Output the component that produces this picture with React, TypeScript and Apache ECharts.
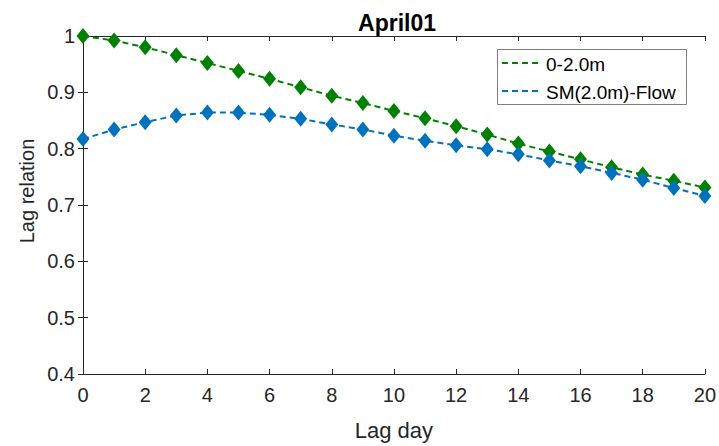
import React, { useEffect, useRef } from "react";
import * as echarts from "echarts";

const lagDays = [0, 1, 2, 3, 4, 5, 6, 7, 8, 9, 10, 11, 12, 13, 14, 15, 16, 17, 18, 19, 20];
const green02 = [1.0, 0.992, 0.980, 0.966, 0.952, 0.938, 0.924, 0.909, 0.894, 0.881, 0.867, 0.854, 0.840, 0.825, 0.809, 0.795, 0.781, 0.767, 0.754, 0.743, 0.731];
const blueSM = [0.817, 0.834, 0.847, 0.859, 0.864, 0.864, 0.860, 0.853, 0.843, 0.834, 0.823, 0.814, 0.806, 0.799, 0.790, 0.779, 0.769, 0.757, 0.745, 0.730, 0.716];
const seriesNames = ["0-2.0m", "SM(2.0m)-Flow"];
const colors = ["#008000", "#0072BD"];
const titleText = "April01";
const xLabel = "Lag day";
const yLabel = "Lag relation";

export default function App() {
  const ref = useRef<HTMLDivElement>(null);
  useEffect(() => {
    if (!ref.current) return;
    const chart = echarts.init(ref.current, null, { renderer: "svg" });
    const font = "'Liberation Sans', Arial, Helvetica, sans-serif";
    const axisColor = "#262626";
    const mkSeries = (name: string, vals: number[], color: string) => ({
      name,
      type: "line",
      data: lagDays.map((d, i) => [d, vals[i]]),
      symbol: "diamond",
      symbolSize: [13, 16],
      showSymbol: true,
      itemStyle: { color },
      lineStyle: { color, width: 2, type: [6, 4] },
      z: 3,
    });
    chart.setOption({
      animation: false,
      backgroundColor: "#ffffff",
      title: {
        text: titleText,
        left: 392,
        textAlign: "center",
        top: 6,
        textStyle: { fontFamily: font, fontSize: 23, fontWeight: "bold", color: "#000" },
      },
      grid: { left: 83, right: 14, top: 36, bottom: 69, containLabel: false },
      xAxis: [
        {
          type: "value",
          min: 0,
          max: 20,
          interval: 2,
          name: xLabel,
          nameLocation: "middle",
          nameGap: 45,
          nameTextStyle: { fontFamily: font, fontSize: 22, color: axisColor },
          axisLine: { show: true, lineStyle: { color: axisColor, width: 1 } },
          axisTick: { show: true, inside: true, length: 5, lineStyle: { color: axisColor } },
          axisLabel: { fontFamily: font, fontSize: 20, color: axisColor, margin: 11 },
          splitLine: { show: false },
        },
        {
          type: "value",
          position: "top",
          min: 0,
          max: 20,
          interval: 2,
          axisLine: { show: true, lineStyle: { color: axisColor, width: 1 } },
          axisTick: { show: true, inside: true, length: 5, lineStyle: { color: axisColor } },
          axisLabel: { show: false },
          splitLine: { show: false },
        },
      ],
      yAxis: [
        {
          type: "value",
          min: 0.4,
          max: 1,
          interval: 0.1,
          axisLine: { show: true, lineStyle: { color: axisColor, width: 1 } },
          axisTick: { show: true, inside: true, length: 5, lineStyle: { color: axisColor } },
          axisLabel: {
            fontFamily: font,
            fontSize: 20,
            color: axisColor,
            margin: 8,
            formatter: (v: number) => String(Math.round(v * 10) / 10),
          },
          splitLine: { show: false },
        },
        {
          type: "value",
          position: "right",
          min: 0.4,
          max: 1,
          interval: 0.1,
          axisLine: { show: true, lineStyle: { color: axisColor, width: 1 } },
          axisTick: { show: true, inside: true, length: 5, lineStyle: { color: axisColor } },
          axisLabel: { show: false },
          splitLine: { show: false },
        },
      ],
      series: [
        mkSeries(seriesNames[0], green02, colors[0]),
        mkSeries(seriesNames[1], blueSM, colors[1]),
      ],
      graphic: [
        {
          type: "text",
          x: 27,
          y: 191,
          rotation: Math.PI / 2,
          style: {
            text: yLabel,
            font: `20px ${font}`,
            fill: axisColor,
            textAlign: "center",
            textVerticalAlign: "middle",
          },
        },
        {
          type: "rect",
          shape: { x: 497.5, y: 49.5, width: 189, height: 55 },
          style: { fill: "#ffffff", stroke: "#7f7f7f", lineWidth: 1 },
          z: 10,
        },
        {
          type: "line",
          shape: { x1: 502, y1: 63, x2: 542, y2: 63 },
          style: { stroke: colors[0], lineWidth: 2, lineDash: [6, 4] },
          z: 11,
        },
        {
          type: "line",
          shape: { x1: 502, y1: 91, x2: 542, y2: 91 },
          style: { stroke: colors[1], lineWidth: 2, lineDash: [6, 4] },
          z: 11,
        },
        {
          type: "text",
          x: 546,
          y: 64,
          style: { text: seriesNames[0], font: `19px ${font}`, fill: "#000", textVerticalAlign: "middle" },
          z: 11,
        },
        {
          type: "text",
          x: 546,
          y: 92,
          style: { text: seriesNames[1], font: `19px ${font}`, fill: "#000", textVerticalAlign: "middle" },
          z: 11,
        },
      ],
    });
    return () => chart.dispose();
  }, []);
  return <div ref={ref} style={{ width: 719, height: 446, position: "absolute", left: 0, top: 0 }} />;
}
